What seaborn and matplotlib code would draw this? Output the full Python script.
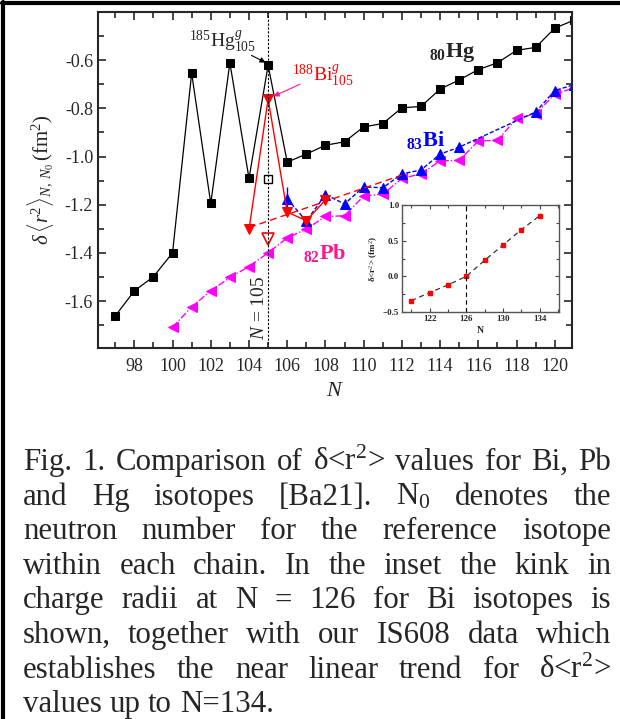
import pandas as pd
import seaborn as sns
import matplotlib.pyplot as plt
from matplotlib.lines import Line2D
from matplotlib.ticker import MultipleLocator, FixedLocator

# ---- data ----
hg_n = list(range(97, 122))
hg_val = [-1.662, -1.558, -1.499, -1.400, -0.654, -1.195, -0.611, -1.091, -0.621,
          -1.023, -0.990, -0.953, -0.939, -0.877, -0.863, -0.798, -0.792, -0.720,
          -0.682, -0.639, -0.611, -0.559, -0.547, -0.467, -0.434]
hg_open_n = [105]
hg_open_val = [-1.095]

pb_n = list(range(100, 122))
pb_val = [-1.709, -1.624, -1.558, -1.502, -1.457, -1.400, -1.338, -1.301, -1.249,
          -1.246, -1.164, -1.156, -1.091, -1.072, -1.018, -1.016, -0.935, -0.933,
          -0.842, -0.823, -0.741, -0.715]

bi_n = [106, 107, 108, 109, 110, 111, 112, 113, 114, 115, 119, 120, 121]
bi_val = [-1.176, -1.268, -1.158, -1.197, -1.126, -1.130, -1.072, -1.056, -0.990,
          -0.961, -0.815, -0.726, -0.702]
bi_err_n = [106]
bi_err_val = [-1.176]
bi_err = [0.05]

bi188_n = [104, 105, 106, 107, 108]
bi188_val = [-1.303, -0.762, -1.231, -1.266, -1.181]
bi_open_n = [105]
bi_open_val = [-1.342]
trend_n = [104, 112]
trend_val = [-1.295, -1.077]

inset_n = [120, 122, 124, 126, 128, 130, 132, 134]
inset_val = [-0.341, -0.229, -0.121, 0.0, 0.224, 0.439, 0.654, 0.850]

caption_lines = [
    "Fig. 1. Comparison of δ<r$^2$> values for Bi, Pb",
    "and Hg isotopes [Ba21]. N$_0$ denotes the",
    "neutron number for the reference isotope",
    "within each chain. In the inset the kink in",
    "charge radii at N = 126 for Bi isotopes is",
    "shown, together with our IS608 data which",
    "establishes the near linear trend for δ<r$^2$>",
    "values up to N=134.",
]

sns.set_style('ticks')
plt.rcParams['font.family'] = ['Liberation Serif', 'DejaVu Serif']
plt.rcParams['mathtext.fontset'] = 'custom'
plt.rcParams['mathtext.rm'] = 'Liberation Serif'
plt.rcParams['mathtext.it'] = 'Liberation Serif:italic'
plt.rcParams['mathtext.bf'] = 'Liberation Serif:bold'

W, H = 620, 719
fig = plt.figure(figsize=(W / 100, H / 100), dpi=100)
fig.patch.set_facecolor('white')

ax = fig.add_axes([98 / W, 1 - 348 / H, 474 / W, 336 / H])

sns.lineplot(x=hg_n, y=hg_val, ax=ax, color='black', marker='s', markersize=6,
             markeredgecolor='black', linewidth=0.9, sort=False)
sns.lineplot(x=pb_n, y=pb_val, ax=ax, color='#ff00ff', marker='<', markersize=7,
             markeredgecolor='#ff00ff', linewidth=1.0, linestyle=(0, (5, 1.5, 1, 1.5)), sort=False)
sns.lineplot(x=bi_n, y=bi_val, ax=ax, color='#0000ff', marker='^', markersize=7,
             markeredgecolor='#0000ff', linewidth=1.0, linestyle=(0, (3, 1.5)), sort=False)
ax.errorbar(bi_err_n, bi_err_val, yerr=bi_err, fmt='none', ecolor='#0000ff', elinewidth=1.0)
sns.lineplot(x=trend_n, y=trend_val, ax=ax, color='#ff0000', linewidth=1.0,
             linestyle=(0, (5, 3)), sort=False)
sns.lineplot(x=bi188_n, y=bi188_val, ax=ax, color='#ff0000', marker='v', markersize=7,
             markeredgecolor='#ff0000', linewidth=1.0, sort=False)
ax.plot(hg_open_n, hg_open_val, linestyle='none', marker='s', markersize=6,
        markerfacecolor='white', markeredgecolor='black', markeredgewidth=1.0)
ax.plot(bi_open_n, bi_open_val, linestyle='none', marker='v', markersize=8,
        markerfacecolor='white', markeredgecolor='#ff0000', markeredgewidth=1.2)

ax.axvline(105, color='black', linestyle=(0, (2, 1.5)), linewidth=0.8)
ax.text(104.55, -1.63, r'$N$ = 105', rotation=90, ha='center', va='center', fontsize=14)

ax.annotate('', xy=(105.0, -0.615), xytext=(104.0, -0.575),
            arrowprops=dict(arrowstyle='-|>', color='black', lw=0.8, mutation_scale=8))
ax.text(100.85, -0.525, r'$^{185}$Hg$^{g}_{105}$', ha='left', va='center', fontsize=14)
ax.annotate('', xy=(105.15, -0.755), xytext=(106.8, -0.695),
            arrowprops=dict(arrowstyle='-|>', color='#ff1493', lw=0.8, mutation_scale=8))
ax.text(106.25, -0.665, r'$^{188}$Bi$^{g}_{105}$', ha='left', va='center', fontsize=14,
        color='#ff0000')

ax.text(113.4, -0.57, r'$_{\mathbf{80}}\mathbf{Hg}$', ha='left', va='center', fontsize=16)
ax.text(112.2, -0.93, r'$_{\mathbf{83}}\mathbf{Bi}$', ha='left', va='center', fontsize=16,
        color='#0000ff')
ax.text(106.8, -1.40, r'$_{\mathbf{82}}\mathbf{Pb}$', ha='left', va='center', fontsize=16,
        color='#ff1493')

ax.set_xlim(96.1, 120.9)
ax.set_ylim(-1.795, -0.40)
ax.xaxis.set_major_locator(MultipleLocator(2))
ax.xaxis.set_minor_locator(MultipleLocator(1))
ax.yaxis.set_major_locator(FixedLocator([-1.6, -1.4, -1.2, -1.0, -0.8, -0.6]))
ax.yaxis.set_minor_locator(MultipleLocator(0.1))
ax.yaxis.set_major_formatter(plt.FuncFormatter(lambda v, p: f'{v:.1f}'))
ax.tick_params(which='both', direction='in', top=True, right=True, labelsize=13, width=1.2)
ax.tick_params(axis='x', which='major', pad=7)
ax.tick_params(which='major', length=6)
ax.tick_params(which='minor', length=4)
for s in ax.spines.values():
    s.set_linewidth(1.5)
ax.set_xlabel(r'$N$', fontsize=16, labelpad=5)
ax.set_ylabel(r'$\delta\,\langle r^2\rangle_{N,\,N_0}\,(\mathrm{fm}^2)$', fontsize=15, labelpad=6)

# ---- inset ----
iax = fig.add_axes([402 / W, 1 - 312 / H, 157 / W, 107 / H])
sns.lineplot(x=inset_n, y=inset_val, ax=iax, color='#333333', linewidth=0.9,
             linestyle=(0, (4, 3)), sort=False)
iax.plot(inset_n, inset_val, linestyle='none', marker='s', markersize=2.2,
         color='#ff0000')
iax.axvline(126, color='black', linestyle=(0, (4, 3)), linewidth=0.8)
iax.set_xlim(119, 136.1)
iax.set_ylim(-0.5, 1.0)
iax.xaxis.set_major_locator(FixedLocator([122, 126, 130, 134]))
iax.xaxis.set_minor_locator(MultipleLocator(2))
iax.yaxis.set_major_locator(MultipleLocator(0.5))
iax.yaxis.set_minor_locator(MultipleLocator(0.25))
iax.tick_params(which='both', direction='in', top=True, right=True, labelsize=6.5,
                width=0.8, color='#444444', pad=2)
iax.tick_params(which='major', length=3)
iax.tick_params(which='minor', length=2)
for lab in iax.get_xticklabels() + iax.get_yticklabels():
    lab.set_fontweight('bold')
for s in iax.spines.values():
    s.set_linewidth(1.0)
    s.set_color('#555555')
iax.set_xlabel('N', fontsize=7, fontweight='bold', labelpad=2)
iax.set_ylabel('δ<r$^2$> (fm$^2$)', fontsize=6.5, fontweight='bold', labelpad=2)

# ---- outer frame (top and left edges) ----
fig.add_artist(Line2D([3 / W, 3 / W], [0, 1 - 2 / H], transform=fig.transFigure,
                      color='black', linewidth=3))
fig.add_artist(Line2D([2 / W, 1], [1 - 2.5 / H, 1 - 2.5 / H], transform=fig.transFigure,
                      color='black', linewidth=3))

# ---- justified caption ----
fig.canvas.draw()
renderer = fig.canvas.get_renderer()
x_left, x_right = 23 / W, 611 / W

# size the caption font so the last (unjustified) line ends where it does in the source
probe = fig.text(0, 0, caption_lines[-1], fontsize=20)
probe_w = probe.get_window_extent(renderer).width
probe.remove()
cap_size = 20 * 250 / probe_w

for i, line in enumerate(caption_lines):
    y = 1 - (470 + i * 34.6) / H
    words = line.split(' ')
    texts = [fig.text(0, y, w, fontsize=cap_size, va='baseline', ha='left') for w in words]
    widths = [t.get_window_extent(renderer).width / fig.bbox.width for t in texts]
    if i == len(caption_lines) - 1:
        sp = fig.text(0, 0, 'a a', fontsize=cap_size)
        sp2 = fig.text(0, 0, 'aa', fontsize=cap_size)
        gap = (sp.get_window_extent(renderer).width - sp2.get_window_extent(renderer).width) / fig.bbox.width
        sp.remove()
        sp2.remove()
    else:
        gap = (x_right - x_left - sum(widths)) / (len(words) - 1)
    x = x_left
    for t, w in zip(texts, widths):
        t.set_x(x)
        x += w + gap

fig.savefig('out.png', dpi=100)
